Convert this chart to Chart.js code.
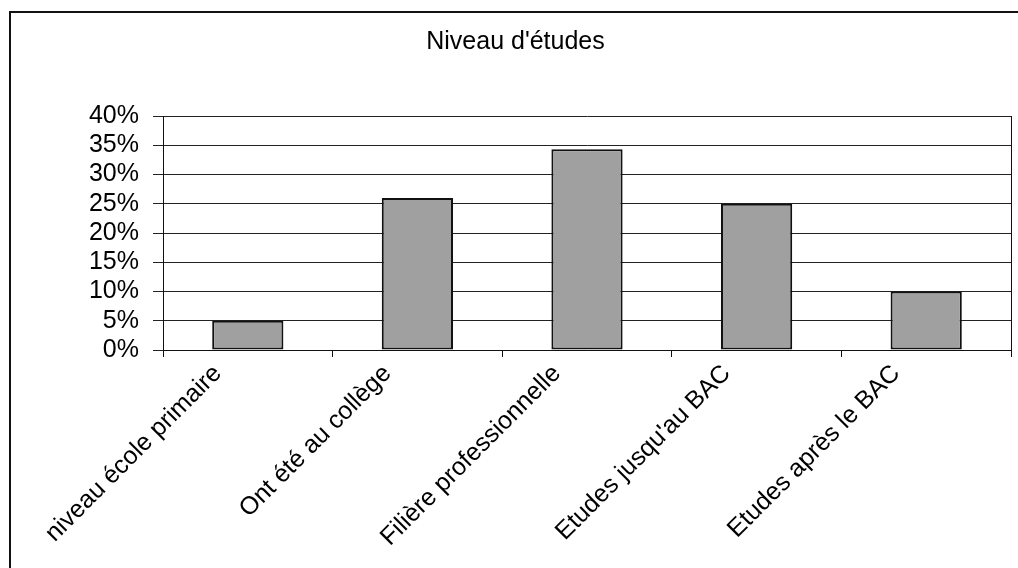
<!DOCTYPE html>
<html>
<head>
<meta charset="utf-8">
<script src="https://cdn.jsdelivr.net/npm/chart.js@4/dist/chart.umd.min.js"></script>
<style>
  html, body { margin: 0; padding: 0; background: #fff; }
  #wrap { width: 1018px; height: 568px; }
</style>
</head>
<body>
<div id="wrap"><canvas id="chart" width="1018" height="568"></canvas></div>
<script>
// data
const categories = [
  "niveau école primaire",
  "Ont été au collège",
  "Filière professionnelle",
  "Etudes jusqu'au BAC",
  "Etudes après le BAC"
];
const shares = [5, 26, 34.3, 25, 10];
const yTicks = [0, 5, 10, 15, 20, 25, 30, 35, 40];

const FONT = 'Arial, "Liberation Sans", sans-serif';

// frame around the whole chart and right edge of the plot area
const framePlugin = {
  id: "frame",
  afterDraw(chart) {
    const ctx = chart.ctx;
    const a = chart.chartArea;
    ctx.save();
    ctx.strokeStyle = "#111";
    ctx.lineWidth = 2;
    ctx.strokeRect(10, 12, 1100, 700);
    ctx.lineWidth = 1;
    ctx.beginPath();
    ctx.moveTo(Math.round(a.right) + 0.5, a.top);
    ctx.lineTo(Math.round(a.right) + 0.5, a.bottom);
    ctx.stroke();
    ctx.restore();
  }
};

new Chart(document.getElementById("chart").getContext("2d"), {
  type: "bar",
  data: {
    labels: categories,
    datasets: [{
      data: shares,
      backgroundColor: "#a0a0a0",
      borderColor: "#111",
      borderWidth: 2,
      borderSkipped: false,
      barPercentage: 0.42,
      categoryPercentage: 1
    }]
  },
  options: {
    responsive: false,
    animation: false,
    layout: { padding: { left: 20, right: 7, top: 0, bottom: 0 } },
    plugins: {
      legend: { display: false },
      tooltip: { enabled: false },
      title: {
        display: true,
        text: "Niveau d'études",
        color: "#000",
        font: { family: FONT, size: 25, weight: "normal" },
        padding: { top: 27, bottom: 59 }
      }
    },
    scales: {
      x: {
        grid: { drawOnChartArea: false, drawTicks: true, tickLength: 7, color: "#111" },
        border: { color: "#111", width: 1 },
        ticks: {
          color: "#000",
          font: { family: FONT, size: 25 },
          minRotation: 45,
          maxRotation: 45,
          autoSkip: false,
          labelOffset: -30,
          padding: 2
        },
        afterFit(scale) { scale.height = 218; }
      },
      y: {
        min: 0,
        max: 40,
        grid: { color: "#222", drawTicks: true, tickLength: 10 },
        border: { color: "#111", width: 1 },
        afterBuildTicks(scale) { scale.ticks = yTicks.map(v => ({ value: v })); },
        ticks: {
          color: "#000",
          font: { family: FONT, size: 25 },
          autoSkip: false,
          padding: 14,
          callback: v => v + "%"
        },
        afterFit(scale) { scale.width = 143; }
      }
    }
  },
  plugins: [framePlugin]
});
</script>
</body>
</html>
